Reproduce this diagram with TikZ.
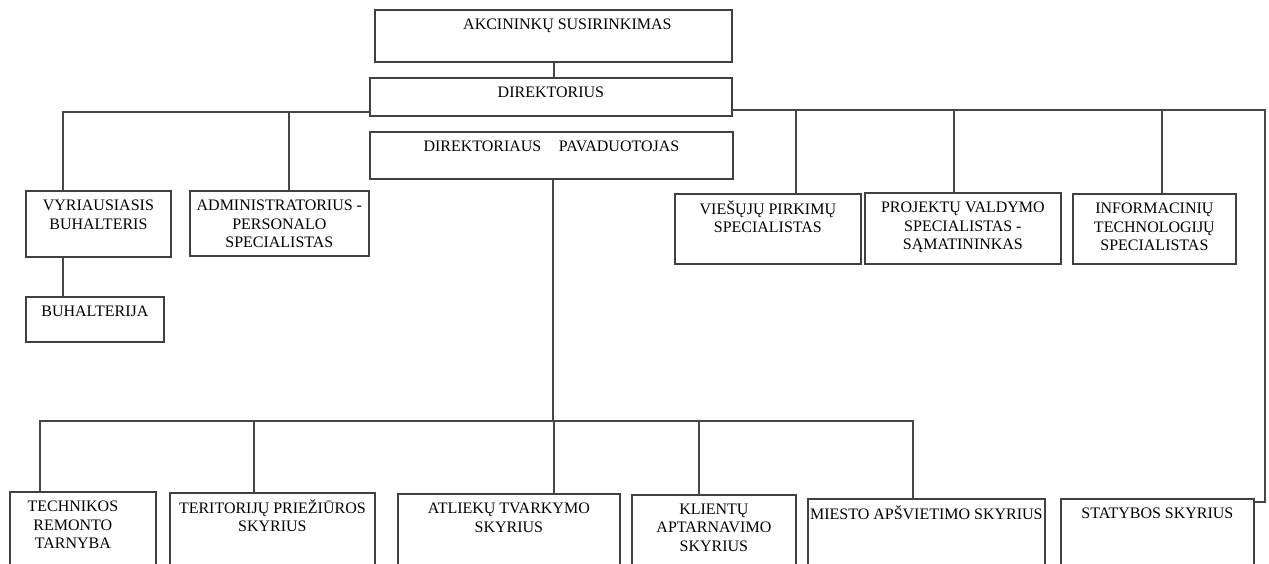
\documentclass[tikz,border=0pt]{standalone}
\usepackage{fontspec}
\setmainfont{Liberation Serif}
\usepackage{tikz}
\tikzset{unit/.style={draw=black!75, line width=1pt, anchor=north west, inner sep=0pt},
         lbl/.style={anchor=north, align=center, inner sep=0pt, yshift=-0.2cm,
                     font=\fontsize{9.1}{10.3}\selectfont},
         link/.style={draw=black!72, line width=1pt}}

\begin{document}
\begin{tikzpicture}
            \useasboundingbox (0,0) rectangle (25.38,-11.26);
            % top
            \node[unit, minimum width=7.14cm, minimum height=1.04cm,
                  label={[lbl, xshift=0.28cm]north:AKCININKŲ SUSIRINKIMAS}] (akc) at (7.48,-0.18) {};
            \node[unit, minimum width=7.24cm, minimum height=0.76cm,
                  label={[lbl]north:DIREKTORIUS}] (dir) at (7.38,-1.54) {};
            \node[unit, minimum width=7.26cm, minimum height=0.94cm,
                  label={[lbl]north:DIREKTORIAUS\hspace{1.1em}PAVADUOTOJAS}] (pav) at (7.38,-2.62) {};
            % left
            \node[unit, minimum width=2.9cm, minimum height=1.32cm,
                  label={[lbl]north:VYRIAUSIASIS\\BUHALTERIS}] (vyr) at (0.5,-3.8) {};
            \node[unit, minimum width=3.58cm, minimum height=1.3cm,
                  label={[lbl]north:ADMINISTRATORIUS -\\PERSONALO\\SPECIALISTAS}] (adm) at (3.78,-3.8) {};
            \node[unit, minimum width=2.76cm, minimum height=0.9cm,
                  label={[lbl]north:BUHALTERIJA}] (buh) at (0.5,-5.92) {};
            % right
            \node[unit, minimum width=3.72cm, minimum height=1.4cm,
                  label={[lbl, yshift=0.06cm]north:VIEŠŲJŲ PIRKIMŲ\\SPECIALISTAS}] (vie) at (13.48,-3.86) {};
            \node[unit, minimum width=3.92cm, minimum height=1.42cm,
                  label={[lbl]north:PROJEKTŲ VALDYMO\\SPECIALISTAS -\\SĄMATININKAS}] (pro) at (17.28,-3.84) {};
            \node[unit, minimum width=3.26cm, minimum height=1.4cm,
                  label={[lbl]north:INFORMACINIŲ\\TECHNOLOGIJŲ\\SPECIALISTAS}] (inf) at (21.44,-3.86) {};
            % bottom row
            \node[unit, minimum width=2.92cm, minimum height=1.6cm,
                  label={[lbl, xshift=-0.2cm]north:TECHNIKOS\\REMONTO\\TARNYBA}] (tec) at (0.18,-9.82) {};
            \node[unit, minimum width=4.1cm, minimum height=1.6cm,
                  label={[lbl, yshift=0.06cm]north:TERITORIJŲ PRIEŽIŪROS\\SKYRIUS}] (ter) at (3.38,-9.84) {};
            \node[unit, minimum width=4.44cm, minimum height=1.6cm,
                  label={[lbl]north:ATLIEKŲ TVARKYMO\\SKYRIUS}] (atl) at (7.94,-9.86) {};
            \node[unit, minimum width=3.28cm, minimum height=1.6cm,
                  label={[lbl]north:KLIENTŲ\\APTARNAVIMO\\SKYRIUS}] (kli) at (12.62,-9.88) {};
            \node[unit, minimum width=4.74cm, minimum height=1.6cm,
                  label={[lbl, yshift=0.06cm]north:MIESTO APŠVIETIMO SKYRIUS}] (mie) at (16.14,-9.96) {};
            \node[unit, minimum width=3.86cm, minimum height=1.6cm,
                  label={[lbl]north:STATYBOS SKYRIUS}] (sta) at (21.2,-9.96) {};

            % bus points
            \coordinate (akcx) at ([xshift=3.6cm]akc.south west);
            \coordinate (pavx) at ([xshift=3.68cm]pav.south west);
            \coordinate (lbus) at ([yshift=0.1cm]dir.south west);
            \coordinate (rbus) at ([yshift=0.14cm]dir.south east);
            \coordinate (bbus) at ([yshift=-4.82cm]pavx);
            \coordinate (vyrx) at ([xshift=0.76cm]vyr.north west);
            \coordinate (admx) at ([xshift=2cm]adm.north west);
            \coordinate (viex) at ([xshift=2.44cm]vie.north west);
            \coordinate (prox) at ([xshift=1.8cm]pro.north west);
            \coordinate (infx) at ([xshift=1.8cm]inf.north west);
            \coordinate (stax) at ([yshift=-0.08cm]sta.north east);
            \coordinate (tecx) at ([xshift=0.62cm]tec.north west);
            \coordinate (terx) at ([xshift=1.7cm]ter.north west);
            \coordinate (atlx) at ([xshift=3.14cm]atl.north west);
            \coordinate (klix) at ([xshift=1.36cm]kli.north west);
            \coordinate (miex) at ([xshift=2.12cm]mie.north west);

            % connectors
            \draw[link] (akcx) -- (akcx |- dir.north);
            \draw[link] (lbus) -| (vyrx);
            \draw[link] (admx) -- (admx |- lbus);
            \draw[link] (vyrx |- vyr.south) -- (vyrx |- buh.north);
            \draw[link] (rbus) -| ([xshift=0.2cm]stax) -- (stax);
            \draw[link] (viex) -- (viex |- rbus);
            \draw[link] (prox) -- (prox |- rbus);
            \draw[link] (infx) -- (infx |- rbus);
            \draw[link] (pavx) -- (bbus);
            \draw[link] (tecx) |- (bbus);
            \draw[link] (miex) |- (bbus);
            \draw[link] (terx) -- (terx |- bbus);
            \draw[link] (atlx) -- (atlx |- bbus);
            \draw[link] (klix) -- (klix |- bbus);
        \end{tikzpicture}
\end{document}
